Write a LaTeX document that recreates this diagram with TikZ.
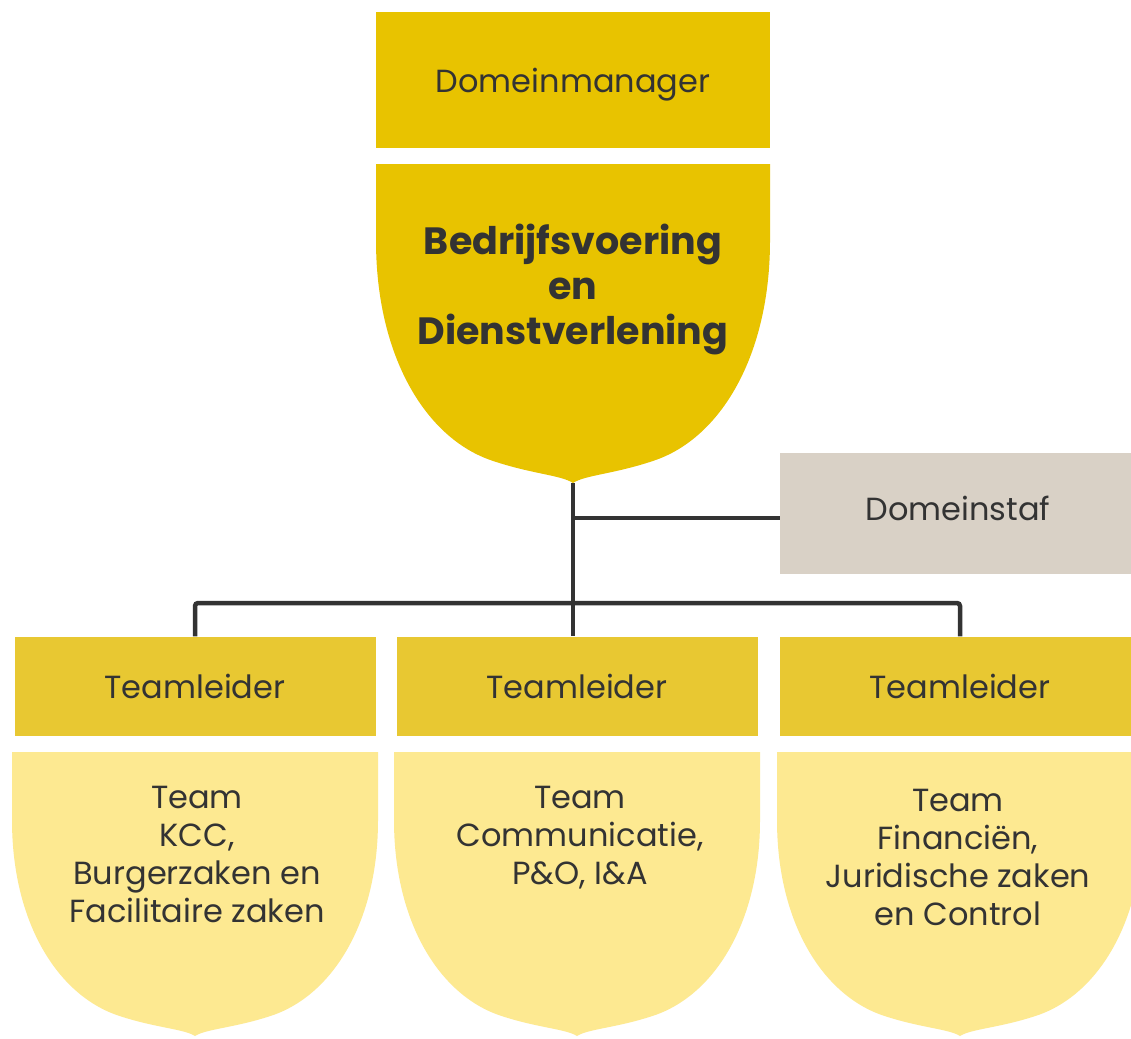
\documentclass[tikz,border=0pt]{standalone}
\usepackage{fontspec}
\setmainfont{Poppins}
\usepackage{tikz}
\definecolor{ink}{HTML}{333333}
\definecolor{gold}{HTML}{E8C300}
\definecolor{mustard}{HTML}{E8C832}
\definecolor{pale}{HTML}{FDE991}
\definecolor{sand}{HTML}{D9D1C6}
\tikzset{
  lab/.style={text=ink, align=center, inner sep=0pt, font=\fontsize{32}{38}\selectfont},
  title/.style={lab, font=\fontsize{38}{45}\selectfont\bfseries},
  mgrbox/.style={lab, fill=gold, minimum width=394pt, minimum height=136pt, text depth=0pt},
  leadbox/.style={lab, fill=mustard, minimum width=361pt, minimum height=99pt, text depth=0pt},
  stafbox/.style={lab, fill=sand, minimum width=356pt, minimum height=121pt, text depth=10pt},
  conn/.style={draw=ink, line width=4.5pt, rounded corners=3pt},
  shield/.pic={
    \fill (-1,0) -- (-1,0.24) .. controls (-1,0.6) and (-0.75,0.86) .. (-0.41,0.93)
      .. controls (-0.21,0.972) and (-0.06,0.975) .. (0,1)
      .. controls (0.06,0.975) and (0.21,0.972) .. (0.41,0.93)
      .. controls (0.75,0.86) and (1,0.6) .. (1,0.24) -- (1,0) -- cycle;
  }
}
\begin{document}
\begin{tikzpicture}[x=1pt, y=-1pt]
  \clip (0,0) rectangle (1131,1038);
  \fill[white] (0,0) rectangle (1131,1038);

  % domein
  \node[mgrbox] (mgr) at (573,80) {Domeinmanager};
  \pic[fill=gold, xscale=197, yscale=319] at (573,164) {shield};
  \coordinate (tip) at (573,483);
  \node[title] (bdv) at (573,290) {Bedrijfsvoering\\en\\Dienstverlening};
  \node[stafbox] (staf) at (958,513.5) {Domeinstaf};

  % teams
  \node[leadbox] (tl1) at (195,686) {Teamleider};
  \node[leadbox] (tl2) at (577,686) {Teamleider};
  \node[leadbox] (tl3) at (960,686) {Teamleider};
  \pic[fill=pale, xscale=183, yscale=284] at (195,752) {shield};
  \pic[fill=pale, xscale=183, yscale=284] at (577,752) {shield};
  \pic[fill=pale, xscale=183, yscale=284] at (960,752) {shield};
  \node[lab] (t1) at (197,854) {Team\\KCC,\\Burgerzaken en\\Facilitaire zaken};
  \node[lab] (t2) at (580,838) {Team\\Communicatie,\\P\&O, I\&A};
  \node[lab] (t3) at (958,857) {Team\\Financiën,\\Juridische zaken\\en Control};

  % lijnen
  \coordinate (split) at (573,518);
  \coordinate (bus) at (573,603);
  \draw[conn] (tip) -- (tip |- tl2.north);
  \draw[conn] (split) -- (staf.west |- split);
  \draw[conn] (tl1.north) |- (bus) -| (tl3.north);
\end{tikzpicture}
\end{document}
